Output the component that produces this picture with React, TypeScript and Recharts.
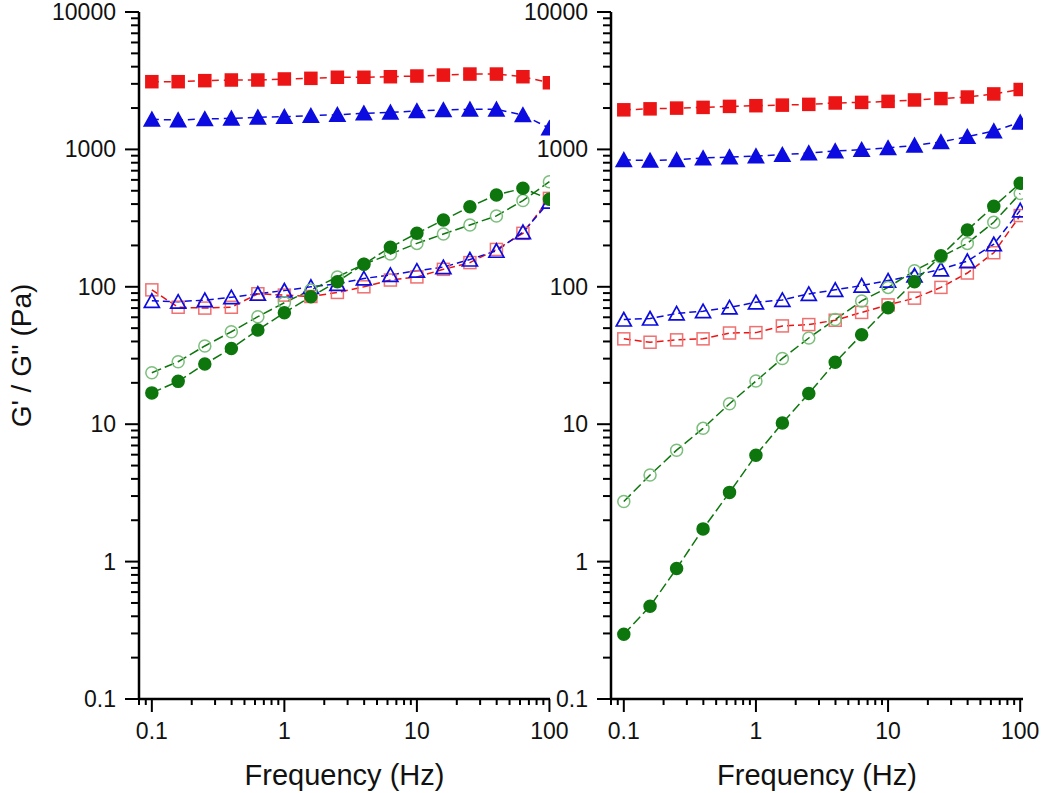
import { LineChart, Line, XAxis, YAxis } from "recharts"

const FONT = '"Liberation Sans", Arial, sans-serif'

// frequencies (Hz), 5 points per decade
const FREQ = [0.1, 0.158, 0.251, 0.398, 0.631, 1, 1.585, 2.512, 3.981, 6.31, 10, 15.85, 25.12, 39.81, 63.1, 100]

// left panel
const L_RED_FILLED = [3110, 3110, 3165, 3200, 3200, 3255, 3290, 3350, 3350, 3380, 3420, 3475, 3535, 3535, 3380, 3055]
const L_BLUE_FILLED = [1655, 1636, 1665, 1683, 1713, 1730, 1759, 1788, 1832, 1862, 1903, 1935, 1958, 1958, 1780, 1426]
const L_RED_OPEN = [95, 71, 70, 71, 89, 87, 85, 91, 100, 112, 118, 134, 150, 187, 245, 440]
const L_BLUE_OPEN = [79, 78, 80, 84, 89, 94, 100, 105, 115, 122, 131, 139, 158, 183, 250, 417]
const L_GREEN_FILLED = [16.9, 20.5, 27.4, 35.6, 48.5, 64.8, 84.7, 109, 146, 194, 245, 306, 383, 466, 521, 434]
const L_GREEN_OPEN = [23.7, 28.5, 37.1, 47.1, 60.6, 76.6, 94.9, 118, 146, 173, 207, 242, 282, 328, 424, 582]

// right panel
const R_RED_FILLED = [1941, 1973, 1998, 2022, 2056, 2080, 2100, 2127, 2177, 2198, 2235, 2290, 2344, 2405, 2533, 2728]
const R_BLUE_FILLED = [840, 830, 840, 865, 880, 894, 915, 941, 973, 995, 1024, 1071, 1134, 1236, 1360, 1575]
const R_RED_OPEN = [41.8, 39.5, 41.1, 41.8, 46.1, 46.4, 51.9, 53.1, 57.1, 65.1, 73.8, 82.7, 99, 126, 177, 330]
const R_BLUE_OPEN = [57.8, 58.8, 64, 66.5, 70.8, 77.1, 80.3, 88.8, 95.1, 102, 111, 121, 134, 154, 204, 360]
const R_GREEN_FILLED = [0.296, 0.473, 0.891, 1.73, 3.19, 5.95, 10.2, 16.7, 28.2, 44.8, 70.5, 109, 168, 259, 385, 567]
const R_GREEN_OPEN = [2.74, 4.27, 6.47, 9.33, 14.1, 20.6, 30.1, 42.4, 57.8, 78.9, 99, 131, 165, 207, 295, 478]

const X_MAJOR = [0.1, 1, 10, 100]
const Y_MAJOR = [0.1, 1, 10, 100, 1000, 10000]
const MINOR_STEPS = [2, 3, 4, 5, 6, 7, 8, 9]

const RED = "#ec1515"
const BLUE = "#0c0ce0"
const GREEN = "#0d760d"
const LIGHT_RED = "#f07070"
const LIGHT_GREEN = "#7cbf7c"

function withMinor(majors: number[], lo: number, hi: number) {
  const out: number[] = []
  const decades = [majors[0] / 10, ...majors]
  decades.forEach((d) => {
    if (d >= lo && d <= hi) out.push(d)
    MINOR_STEPS.forEach((m) => {
      const v = +(d * m).toPrecision(6)
      if (v >= lo && v <= hi) out.push(v)
    })
  })
  return out
}

type Shape = "square" | "triangle" | "circle"

function makeDot(shape: Shape, fill: string, stroke: string) {
  return (p: any) => {
    const { cx, cy, index } = p
    const k = `${shape}-${fill}-${index}`
    if (cx == null || cy == null) return <g key={k} />
    if (shape === "square")
      return <rect key={k} x={cx - 6} y={cy - 6} width={12} height={12} fill={fill} stroke={stroke} strokeWidth={1.5} />
    if (shape === "triangle")
      return (
        <polygon
          key={k}
          points={`${cx},${cy - 7} ${cx - 7.5},${cy + 6.5} ${cx + 7.5},${cy + 6.5}`}
          fill={fill}
          stroke={stroke}
          strokeWidth={1.7}
          strokeLinejoin="miter"
        />
      )
    return <circle key={k} cx={cx} cy={cy} r={6} fill={fill} stroke={stroke} strokeWidth={1.5} />
  }
}

const XTick = (props: any) => {
  const { x, y, payload } = props
  const major = X_MAJOR.includes(payload.value)
  return (
    <g>
      <line x1={x} x2={x} y1={y} y2={y + (major ? 13 : 6)} stroke="#000" strokeWidth={2} />
      {major && (
        <text x={x} y={y + 40} textAnchor="middle" fontSize={23} fontFamily={FONT} fill="#111">
          {String(payload.value)}
        </text>
      )}
    </g>
  )
}

const YTick = (props: any) => {
  const { x, y, payload } = props
  const major = Y_MAJOR.includes(payload.value)
  return (
    <g>
      <line x1={x - (major ? 14 : 8)} x2={x} y1={y} y2={y} stroke="#000" strokeWidth={2} />
      {major && (
        <text x={x - 23} y={y + 8} textAnchor="end" fontSize={23} fontFamily={FONT} fill="#111">
          {String(payload.value)}
        </text>
      )}
    </g>
  )
}

interface PanelProps {
  width: number
  yAxisWidth: number
  rightMargin: number
  xDomain: [number, number]
  series: number[][]
  showYTitle?: boolean
}

function Panel({ width, yAxisWidth, rightMargin, xDomain, series, showYTitle }: PanelProps) {
  const [redF, blueF, redO, blueO, greenF, greenO] = series
  const data = FREQ.map((f, i) => ({
    f,
    redF: redF[i],
    blueF: blueF[i],
    redO: redO[i],
    blueO: blueO[i],
    greenF: greenF[i],
    greenO: greenO[i],
  }))

  return (
    <LineChart width={width} height={793} data={data} margin={{ top: 12, right: rightMargin, bottom: 0, left: 0 }}>
      <XAxis
        type="number"
        dataKey="f"
        scale="log"
        domain={xDomain}
        allowDataOverflow
        ticks={withMinor(X_MAJOR, xDomain[0], xDomain[1])}
        interval={0}
        tick={<XTick />}
        tickSize={0}
        tickMargin={0}
        tickLine={false}
        height={94}
        axisLine={{ stroke: "#000", strokeWidth: 2.5 }}
        label={{
          content: (p: any) => {
            const vb = p.viewBox || {}
            return (
              <text x={vb.x + vb.width / 2} y={785} textAnchor="middle" fontSize={29} fontFamily={FONT} fill="#111">
                Frequency (Hz)
              </text>
            )
          },
        }}
      />
      <YAxis
        type="number"
        scale="log"
        domain={[0.1, 10000]}
        allowDataOverflow
        ticks={withMinor(Y_MAJOR, 0.1, 10000)}
        interval={0}
        tick={<YTick />}
        tickSize={0}
        tickMargin={0}
        tickLine={false}
        width={yAxisWidth}
        axisLine={{ stroke: "#000", strokeWidth: 2.5 }}
        label={
          showYTitle
            ? {
                content: (p: any) => {
                  const vb = p.viewBox || {}
                  const cy = vb.y + vb.height / 2
                  return (
                    <text
                      x={31}
                      y={cy}
                      transform={`rotate(-90, 31, ${cy})`}
                      textAnchor="middle"
                      fontSize={28}
                      fontFamily={FONT}
                      fill="#111"
                    >
                      G' / G'' (Pa)
                    </text>
                  )
                },
              }
            : undefined
        }
      />
      <Line dataKey="redF" stroke={RED} strokeWidth={1.5} strokeDasharray="7 5" dot={makeDot("square", RED, RED)} activeDot={false} isAnimationActive={false} />
      <Line dataKey="blueF" stroke={BLUE} strokeWidth={1.5} strokeDasharray="7 5" dot={makeDot("triangle", BLUE, BLUE)} activeDot={false} isAnimationActive={false} />
      <Line dataKey="redO" stroke={RED} strokeWidth={1.5} strokeDasharray="7 4" dot={makeDot("square", "none", LIGHT_RED)} activeDot={false} isAnimationActive={false} />
      <Line dataKey="blueO" stroke={BLUE} strokeWidth={1.5} strokeDasharray="7 4" dot={makeDot("triangle", "none", BLUE)} activeDot={false} isAnimationActive={false} />
      <Line dataKey="greenO" stroke={GREEN} strokeWidth={1.5} strokeDasharray="10 4" dot={makeDot("circle", "none", LIGHT_GREEN)} activeDot={false} isAnimationActive={false} />
      <Line dataKey="greenF" stroke={GREEN} strokeWidth={1.5} strokeDasharray="10 4" dot={makeDot("circle", GREEN, GREEN)} activeDot={false} isAnimationActive={false} />
    </LineChart>
  )
}

export default function App() {
  return (
    <div style={{ position: "absolute", left: 0, top: 0, width: 1050, height: 793, background: "#fff", fontFamily: FONT }}>
      <div style={{ position: "absolute", left: 0, top: 0 }}>
        <Panel
          width={580}
          yAxisWidth={139}
          rightMargin={30}
          xDomain={[0.08, 101]}
          series={[L_RED_FILLED, L_BLUE_FILLED, L_RED_OPEN, L_BLUE_OPEN, L_GREEN_FILLED, L_GREEN_OPEN]}
          showYTitle
        />
      </div>
      <div style={{ position: "absolute", left: 500, top: 0 }}>
        <Panel
          width={550}
          yAxisWidth={111}
          rightMargin={27}
          xDomain={[0.08, 105]}
          series={[R_RED_FILLED, R_BLUE_FILLED, R_RED_OPEN, R_BLUE_OPEN, R_GREEN_FILLED, R_GREEN_OPEN]}
        />
      </div>
    </div>
  )
}
